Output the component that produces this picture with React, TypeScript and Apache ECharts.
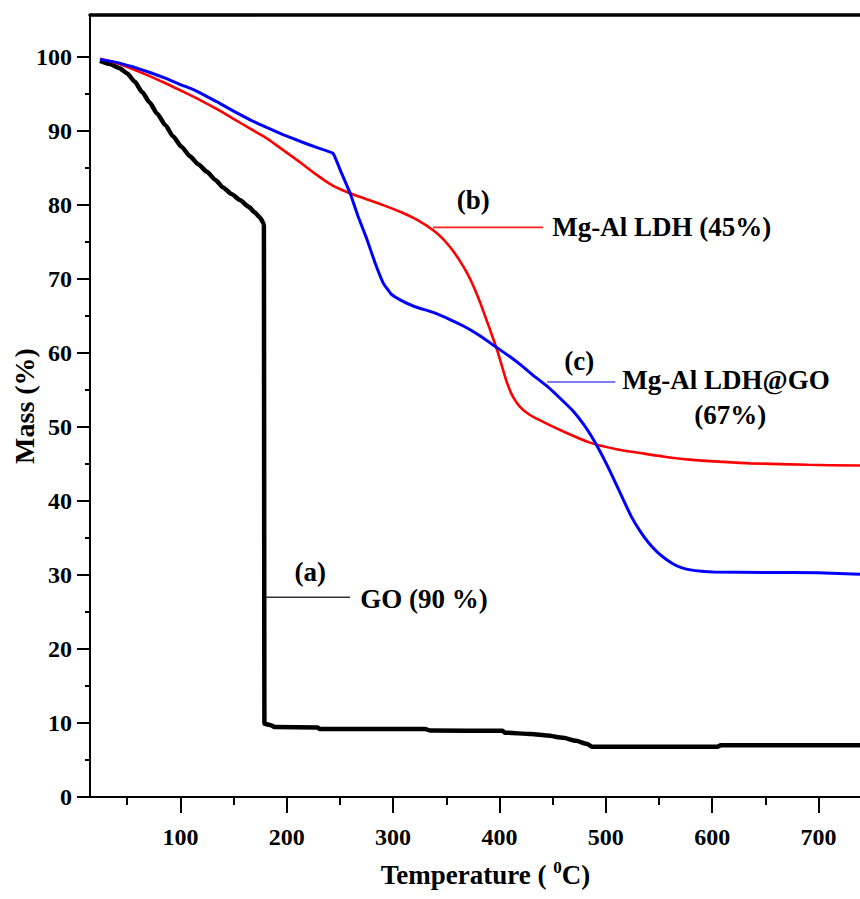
import React, { useEffect, useRef } from "react";
import * as echarts from "echarts";

const FONT = '"Liberation Serif", "Times New Roman", serif';

const xMajorTicks = [100, 200, 300, 400, 500, 600, 700];
const xMinorTicks = [50, 150, 250, 350, 450, 550, 650];
const yMajorTicks = [0, 10, 20, 30, 40, 50, 60, 70, 80, 90, 100];
const yMinorTicks = [5, 15, 25, 35, 45, 55, 65, 75, 85, 95];

const goCurve: number[][] = [
  [24.4, 99.5], [33, 99.1], [43, 98.5], [50, 97.8], [57, 96.7], [64, 95.3],
  [71, 93.9], [78, 92.4], [86, 90.8], [93, 89.3], [101, 87.9], [109, 86.6],
  [117, 85.5], [125, 84.5], [133, 83.4], [140, 82.4], [148, 81.5], [156, 80.7],
  [164, 79.8], [170, 79.0], [175, 78.3], [178, 77.6], [178.5, 77.3], [179, 9.9],
  [185, 9.7], [189, 9.45], [229, 9.4], [231, 9.2], [330, 9.2], [335, 8.98],
  [403, 8.95], [405, 8.7], [430, 8.5], [445, 8.3], [460, 8.0], [472, 7.6],
  [482, 7.2], [487, 6.8], [605, 6.8], [608, 7.0], [739, 7.0],
];

const ldhCurve: number[][] = [
  [24.4, 99.8], [40, 99.2], [55, 98.4], [70, 97.5], [87, 96.4], [103, 95.3],
  [118.5, 94.2], [134, 93.0], [149.5, 91.7], [166, 90.3], [181.5, 89.0],
  [197, 87.4], [212.5, 85.8], [228, 84.1], [243.6, 82.6], [259.6, 81.6],
  [275, 80.8], [290.6, 80.0], [306.6, 79.1], [322.6, 78.0], [337.7, 76.6],
  [345.7, 75.6], [353.7, 74.3], [361.7, 72.7], [369.6, 70.8], [376, 68.9],
  [381.9, 66.8], [387, 64.8], [391.3, 63.1], [397.8, 60.4], [402, 58.4],
  [407.3, 55.9], [413, 54.0], [419.5, 52.7], [428, 51.7], [438.3, 50.9],
  [457, 49.6], [485, 47.9], [510, 47.0], [532, 46.5], [555, 46.0],
  [579.4, 45.6], [610, 45.3], [636, 45.1], [690, 44.9], [739, 44.8],
];

const ldhGoCurve: number[][] = [
  [24.4, 99.7], [40, 99.3], [55, 98.7], [70, 98.0], [87, 97.1], [100, 96.3],
  [109, 95.8], [118, 95.2], [134, 94.0], [150, 92.7], [166, 91.5], [181, 90.5],
  [197, 89.5], [213, 88.6], [228, 87.8], [243.5, 87.0], [251, 84.5],
  [259.6, 81.6], [267, 78.5], [275.6, 75.3], [283, 72.2], [290.6, 69.5],
  [298, 68.0], [306.6, 67.2], [320, 66.3], [337.7, 65.5], [354, 64.5],
  [369.6, 63.4], [382, 62.3], [394, 61.1], [410, 59.5], [420, 58.4],
  [431.7, 57.0], [445, 55.5], [457, 53.9], [469, 52.2], [480, 50.2],
  [488, 48.4], [495, 46.6], [501.4, 44.8], [508, 42.8], [516.4, 40.2],
  [524, 37.9], [532.4, 35.9], [540, 34.4], [548.4, 33.1], [556, 32.2],
  [563.4, 31.5], [571, 31.0], [579.4, 30.7], [590, 30.5], [601, 30.4],
  [650, 30.35], [699, 30.3], [739, 30.1],
];

// annotation texts placed in data coordinates [temperature, mass]
const annotationTexts = [
  { text: "(a)", at: [222, 30.4], align: "center" },
  { text: "GO (90 %)", at: [269, 26.7], align: "left" },
  { text: "(b)", at: [375.3, 80.7], align: "center" },
  { text: "Mg-Al LDH (45%)", at: [449.6, 77.1], align: "left" },
  { text: "(c)", at: [475, 59.0], align: "center" },
  { text: "Mg-Al LDH@GO", at: [515.5, 56.3], align: "left" },
  { text: "(67%)", at: [617, 51.6], align: "center" },
];

const leaderLines = [
  { from: [180.6, 27.0], to: [259.6, 27.0], color: "#333333" },
  { from: [337.7, 77.0], to: [441, 77.0], color: "#ff2020" },
  { from: [445, 56.1], to: [509, 56.1], color: "#5050e8" },
];

const X_MIN = 15;
const X_MAX = 739;
const Y_MIN = 0;
const Y_MAX = 105.7;

export default function App() {
  const ref = useRef<HTMLDivElement>(null);

  useEffect(() => {
    if (!ref.current) return;
    const chart = echarts.init(ref.current, undefined, { renderer: "svg" });
    const labelStyle = {
      color: "#000",
      fontFamily: FONT,
      fontWeight: "bold" as const,
      fontSize: 24,
    };
    const option: any = {
      animation: false,
      backgroundColor: "#fff",
      grid: {
        left: 90,
        right: 0,
        top: 15,
        bottom: 102,
        containLabel: false,
        outerBoundsMode: "none",
      },
      xAxis: [
        {
          type: "value",
          min: X_MIN,
          max: X_MAX,
          position: "bottom",
          name: "{t|Temperature ( }{s|0}{t|C)}",
          nameLocation: "middle",
          nameGap: 62,
          nameMoveOverlap: false,
          nameTextStyle: {
            padding: [0, 0, 0, 21],
            rich: {
              t: { fontSize: 27, fontWeight: "bold", fontFamily: FONT, color: "#000", lineHeight: 32 },
              s: { fontSize: 17, fontWeight: "bold", fontFamily: FONT, color: "#000", lineHeight: 18, verticalAlign: "top" },
            },
          },
          axisLine: { show: true, onZero: false, lineStyle: { color: "#000", width: 2 } },
          axisTick: { show: true, inside: false, length: 16, customValues: xMajorTicks, lineStyle: { color: "#000", width: 2 } },
          axisLabel: { ...labelStyle, margin: 28, customValues: xMajorTicks },
          splitLine: { show: false },
        },
        {
          type: "value",
          min: X_MIN,
          max: X_MAX,
          position: "bottom",
          axisLine: { show: false },
          axisTick: { show: true, inside: false, length: 8, customValues: xMinorTicks, lineStyle: { color: "#000", width: 2 } },
          axisLabel: { show: false },
          splitLine: { show: false },
        },
        {
          type: "value",
          min: X_MIN,
          max: X_MAX,
          position: "top",
          axisLine: { show: true, onZero: false, lineStyle: { color: "#000", width: 3.5 } },
          axisTick: { show: false },
          axisLabel: { show: false },
          splitLine: { show: false },
        },
      ],
      yAxis: [
        {
          type: "value",
          min: Y_MIN,
          max: Y_MAX,
          position: "left",
          name: "Mass (%)",
          nameLocation: "middle",
          nameGap: 52,
          nameMoveOverlap: false,
          nameTextStyle: { fontSize: 28, fontWeight: "bold", fontFamily: FONT, color: "#000" },
          axisLine: { show: true, onZero: false, lineStyle: { color: "#000", width: 2 } },
          axisTick: { show: true, inside: false, length: 13, customValues: yMajorTicks, lineStyle: { color: "#000", width: 2 } },
          axisLabel: { ...labelStyle, margin: 18, customValues: yMajorTicks },
          splitLine: { show: false },
        },
        {
          type: "value",
          min: Y_MIN,
          max: Y_MAX,
          position: "left",
          axisLine: { show: false },
          axisTick: { show: true, inside: false, length: 5, customValues: yMinorTicks, lineStyle: { color: "#000", width: 2 } },
          axisLabel: { show: false },
          splitLine: { show: false },
        },
      ],
      series: [
        {
          name: "GO",
          type: "line",
          data: goCurve,
          smooth: 0.2,
          smoothMonotone: "x",
          showSymbol: false,
          lineStyle: { color: "#000000", width: 4.5 },
          z: 3,
        },
        {
          name: "Mg-Al LDH",
          type: "line",
          data: ldhCurve,
          smooth: 0.3,
          showSymbol: false,
          lineStyle: { color: "#ff0000", width: 2.6 },
          z: 4,
        },
        {
          name: "Mg-Al LDH@GO",
          type: "line",
          data: ldhGoCurve,
          smooth: 0.1,
          showSymbol: false,
          lineStyle: { color: "#0000ff", width: 3 },
          z: 5,
        },
      ],
    };
    chart.setOption(option);

    const toPx = (p: number[]) =>
      chart.convertToPixel({ xAxisIndex: 0, yAxisIndex: 0 }, p) as number[];

    const graphics: any[] = [];
    leaderLines.forEach((l) => {
      const a = toPx(l.from);
      const b = toPx(l.to);
      graphics.push({
        type: "line",
        shape: { x1: a[0], y1: a[1], x2: b[0], y2: b[1] },
        style: { stroke: l.color, lineWidth: 1.6 },
        z: 10,
      });
    });
    annotationTexts.forEach((t) => {
      const p = toPx(t.at);
      graphics.push({
        type: "text",
        x: p[0],
        y: p[1],
        style: {
          text: t.text,
          fill: "#000",
          fontSize: 27,
          fontWeight: "bold",
          fontFamily: FONT,
          textAlign: t.align,
          textVerticalAlign: "middle",
        },
        z: 10,
      });
    });
    chart.setOption({ graphic: graphics });

    return () => chart.dispose();
  }, []);

  return (
    <div
      ref={ref}
      style={{ position: "absolute", left: 0, top: 0, width: 860, height: 899 }}
    />
  );
}
